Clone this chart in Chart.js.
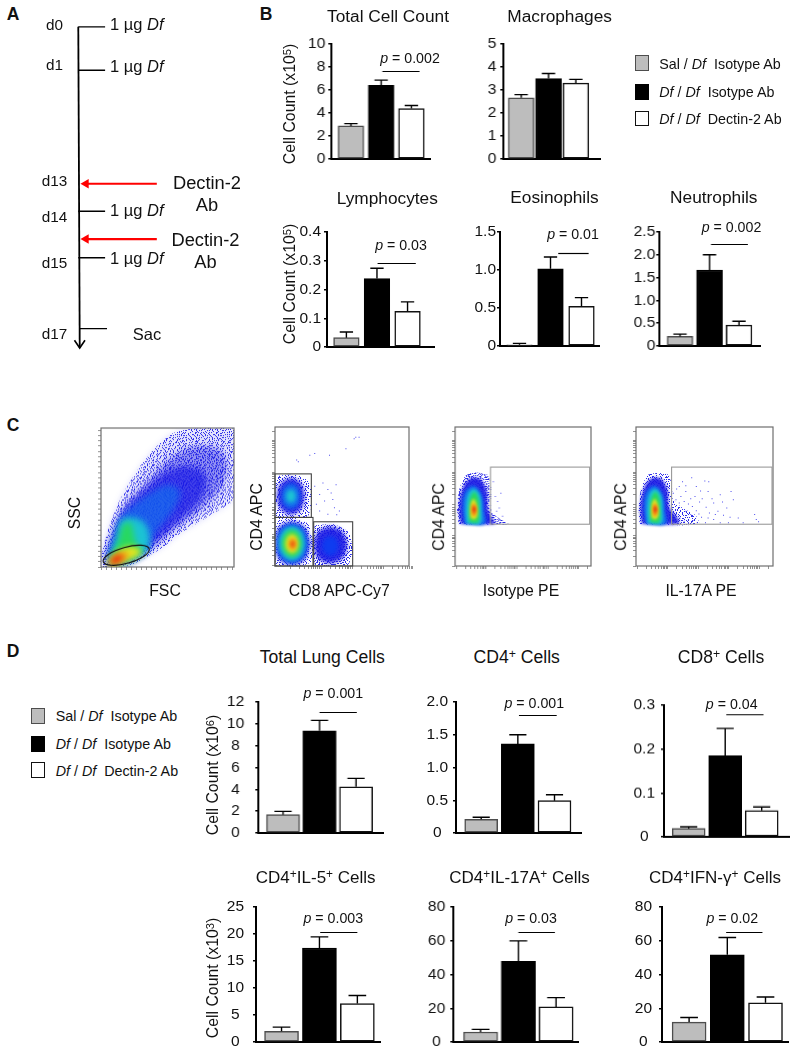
<!DOCTYPE html>
<html><head><meta charset="utf-8">
<script src="https://cdn.jsdelivr.net/npm/chart.js@4"></script>
<style>
html,body{margin:0;padding:0;background:#fff}
#page{position:relative;width:795px;height:1050px;overflow:hidden;font-family:"Liberation Sans",Arial,sans-serif;color:#111}
canvas{position:absolute}
.t{position:absolute;white-space:pre;line-height:1;transform:translate(-50%,-50%)}
.l{transform:translate(0,-50%)}
.r{transform:translate(-50%,-50%) rotate(-90deg)}
sup{font-size:.7em;line-height:0;vertical-align:baseline;position:relative;top:-.4em}
.sw{position:absolute;box-sizing:border-box}
</style></head><body><div id="page"></div>
<script>
/* ---------- data: bar panels ---------- */
const groupLabels=['Sal / <i>Df</i>  Isotype Ab','<i>Df</i> / <i>Df</i>  Isotype Ab','<i>Df</i> / <i>Df</i>  Dectin-2 Ab'];
const totalCellMeans=[2.88,6.4,4.39], totalCellTops=[3.08,6.86,4.65], totalCellTicks=['0','2','4','6','8','10'];
const macroMeans=[2.66,3.5,3.3], macroTops=[2.8,3.72,3.46], macroTicks=['0','1','2','3','4','5'];
const lymphMeans=[0.0325,0.238,0.124], lymphTops=[0.052,0.274,0.157], lymphTicks=['0','0.1','0.2','0.3','0.4'];
const eosMeans=[0.017,1.017,0.522], eosTops=[0.035,1.171,0.636], eosTicks=['0','0.5','1.0','1.5'];
const neutMeans=[0.21,1.667,0.457], neutTops=[0.26,2.0,0.543], neutTicks=['0','0.5','1.0','1.5','2.0','2.5'];
const lungMeans=[1.68,9.37,4.24], lungTops=[1.98,10.32,5.0], lungTicks=['0','2','4','6','8','10','12'];
const cd4Means=[0.209,1.36,0.494], cd4Tops=[0.24,1.5,0.585], cd4Ticks=['0','0.5','1.0','1.5','2.0'];
const cd8Means=[0.019,0.185,0.06], cd8Tops=[0.023,0.247,0.068], cd8Ticks=['0','0.1','0.2','0.3'];
const il5Means=[1.97,17.4,7.13], il5Tops=[2.76,19.47,8.6], il5Ticks=['0','5','10','15','20','25'];
const il17Means=[5.9,47.8,20.8], il17Tops=[7.5,59.9,26.3], il17Ticks=['0','20','40','60','80'];
const ifnMeans=[11.8,51.7,23.2], ifnTops=[14.5,61.9,26.7], ifnTicks=['0','20','40','60','80'];

/* ---------- data: timeline ---------- */
const doseRows=[22,66.7,212,260], sacRow=333, antibodyRows=[183.7,240.7];
const dayLabels=['d0','d1','d13','d14','d15','d17'];

/* ---------- data: flow density contours (channel units) ---------- */
const fscSparse=[305,470,305,430,320,370,345,300,375,240,420,170,470,110,520,70,580,57,703,57,703,260,690,280,640,310,590,340,540,370,490,410,440,440,390,465,340,470];
const fscDense=[310,452,328,395,358,315,395,262,450,205,510,145,580,110,660,120,682,170,660,240,600,300,540,342,490,382,440,425,390,458,340,468];
const fscBlue2=[318,445,338,385,362,320,392,280,440,235,500,185,570,170,620,200,600,270,550,320,500,365,460,400,420,430,370,455];
const fscLight=[322,445,342,375,365,318,400,285,450,250,505,225,540,245,520,300,480,350,442,400,400,440];
const fscCyan=[325,450,348,382,362,332,392,322,430,335,448,375,442,418,392,450,345,466];
const fscGreen=[322,455,352,398,368,345,390,338,402,378,412,408,432,420,402,445,342,466];
const fscYellow=[320,456,345,430,380,410,415,414,422,430,382,450,335,466];
const fscOrange=[325,458,345,436,365,428,386,432,372,450,335,465];
const fscRed=[328,456,345,438,360,434,366,445,340,462];
const fscGate=[378,435,72,24];

const cdSparseTop=[826,195,860,190,900,192,930,215,935,270,925,315,880,325,830,322,825,260,826,195];
const cdSparseLow=[826,328,880,325,925,340,940,400,935,455,900,468,826,468,826,328];
const cdSparseRight=[945,345,1000,340,1048,365,1060,420,1045,465,950,468,938,400,945,345];
const cdDots=[1070,75,1065,80,1080,75,990,130,945,125,890,145,895,150,1010,220,985,235,960,250,975,270,1000,265,1005,290,960,300,985,310,945,225,1020,300,995,245,970,215,1040,110,950,280,1012,312,1098,470,930,130];
const cdTopA=[914,258,902,219,872,203,842,219,830,258,842,297,872,313,902,297,914,258];
const cdTopB=[900,258,892,231,872,220,852,231,844,258,852,285,872,296,892,285,900,258];
const cdTopC=[887,258,883,244,872,238,861,244,857,258,861,272,872,278,883,272,887,258];
const cdLowA=[930,400,914,354,875,335,836,354,826,400,836,446,875,465,914,446,930,400];
const cdLowB=[923,400,909,358,875,342,841,358,829,400,841,442,875,460,909,442,923,400];
const cdLowC=[913,400,902,365,875,350,848,365,837,400,848,435,875,450,902,435,913,400];
const cdLowD=[905,400,896,371,875,358,854,371,845,400,854,429,875,442,896,429,905,400];
const cdLowE=[895,402,889,380,875,372,861,380,855,402,861,422,875,430,889,422,895,402];
const cdLowF=[888,402,884,390,877,384,870,390,866,402,870,414,877,420,884,414,888,402];
const cdLowG=[882,402,880,396,877,394,874,396,872,402,874,408,877,410,880,408,882,402];
const cdRightA=[1042,405,1027,366,990,350,953,366,942,405,953,444,990,460,1027,444,1042,405];
const cdRightB=[1015,408,1008,387,990,378,972,387,965,408,972,429,990,438,1008,429,1015,408];
const cdGates=[[824,191,933,322],[824,322,938,468],[940,335,1057,468]];

const isoSparse=[118,340,112,290,120,230,140,190,170,182,205,190,215,230,215,300,240,322,268,340,118,340];
const isoDots=[245,245,235,270,228,255,222,210,240,290,250,315,232,300];
const isoA=[122,340,118,290,128,235,150,205,180,205,200,240,205,300,225,335,225,340,122,340];
const isoB=[135,340,128,290,135,245,160,225,185,250,192,300,195,340,135,340];
const isoC=[140,338,138,290,145,250,162,235,180,255,185,300,182,338,140,338];
const isoD=[148,335,148,290,154,255,165,245,175,262,178,300,175,335,148,335];
const isoE=[152,322,152,285,161,265,171,285,172,315,165,326,152,322];
const isoF=[156,312,156,288,162,278,169,290,169,310,162,318,156,312];
const isoG=[159,303,160,290,164,287,167,296,165,305,159,303];
const isoGates=[[212,170,508,341]];

const il17Sparse=[660,340,656,290,664,230,684,190,714,184,748,190,758,230,760,262,790,290,830,312,840,340,660,340];
const il17Dots=[790,210,818,198,832,225,858,208,870,210,800,240,785,255,815,262,845,238,868,240,880,262,905,250,938,240,820,285,842,272,862,288,885,275,898,300,915,312,935,318,1010,310,1015,325,1022,332,960,320,800,300,815,310,832,298,848,318,868,320,885,325,905,335,860,335,835,335,780,275,795,270,770,265,808,278,828,255,850,262,772,232,762,245,780,225,755,205,800,222,770,310,782,320,795,330,808,335,822,328,840,308,872,305,890,310,925,290,945,265,912,272,930,335,975,335];
const il17A=[665,340,661,290,671,235,693,205,723,205,743,240,748,290,775,325,775,340,665,340];
const il17B=[678,340,671,290,678,245,703,225,728,250,735,300,738,340,678,340];
const il17C=[683,338,681,290,688,250,705,235,723,255,728,300,725,338,683,338];
const il17D=[691,335,691,290,697,255,708,245,718,262,721,300,718,335,691,335];
const il17E=[695,322,695,285,704,265,714,285,715,315,708,326,695,322];
const il17F=[699,312,699,288,705,278,712,290,712,310,705,318,699,312];
const il17G=[702,303,703,290,707,287,710,296,708,305,702,303];
const il17Gates=[[755,170,1057,341]];

/* flow axis tick positions */
const logSteps=[1,2,3,4,5,6,7,8,9];
const fscTickStart=302, fscTickEnd=703, fscTickGap=15.2;
const ssTickStart=470, ssTickEnd=55, ssTickGap=15.7;

/* ---------- helpers ---------- */
const page=document.getElementById('page');
const FONT='"Liberation Sans",Arial,sans-serif';
function txt(x,y,html,size,cls,extra){const d=document.createElement('div');d.className='t '+(cls||'');d.style.left=x+'px';d.style.top=y+'px';d.style.fontSize=size+'px';d.innerHTML=html;if(extra)Object.assign(d.style,extra);page.appendChild(d);return d;}
function mk(l,t,w,h){const c=document.createElement('canvas');c.style.left=l+'px';c.style.top=t+'px';c.width=w;c.height=h;c.style.width=w+'px';c.style.height=h+'px';page.appendChild(c);return c;}
const pairs=a=>{const o=[];for(let i=0;i<a.length;i+=2)o.push({x:a[i],y:a[i+1]});return o;};
Chart.defaults.animation=false;Chart.defaults.responsive=false;Chart.defaults.font.family=FONT;
const noLegend={legend:{display:false},tooltip:{enabled:false}};

const barMarks={id:'barMarks',afterDatasetsDraw(ch,_,o){
  const c=ch.ctx,X=ch.scales.x,Y=ch.scales.y;c.save();c.strokeStyle='#000';c.lineWidth=1.4;
  o.tops.forEach((v,i)=>{const x=X.getPixelForValue(i),y0=Y.getPixelForValue(o.means[i]),y1=Y.getPixelForValue(v);
    c.beginPath();c.moveTo(x,y0);c.lineTo(x,y1);c.moveTo(x-o.cap/2,y1);c.lineTo(x+o.cap/2,y1);c.stroke();});
  if(o.sig){c.lineWidth=1.2;const y=Math.round(Y.getPixelForValue(o.sig[0]))+.5;c.beginPath();c.moveTo(X.getPixelForValue(o.sig[1]),y);c.lineTo(X.getPixelForValue(o.sig[2]),y);c.stroke();}
  c.restore();}};

function barChart(p){
  const padL=50,padT=26,padB=26,padR=6;
  const step=(p.c2-p.c0)/2;
  const xMin=-(p.c0-p.axis)/step, xMax=2+(p.right-p.c2)/step;
  const cv=mk(p.axis-padL,p.top-padT,p.right-p.axis+padL+padR,p.bottom-p.top+padT+padB);
  const nums=p.ticks.map(Number);
  new Chart(cv,{type:'bar',plugins:[barMarks],data:{datasets:[{
      data:p.means.map((v,i)=>({x:i,y:v})),barThickness:p.bw,borderSkipped:false,
      backgroundColor:['#bdbdbd','#000','#fff'],borderColor:['#4d4d4d','#000','#111'],borderWidth:1.5}]},
    options:{layout:{padding:{top:padT,bottom:padB,right:padR}},
      plugins:{...noLegend,barMarks:{means:p.means,tops:p.tops,cap:p.bw*.52,sig:p.sig}},
      scales:{
        x:{type:'linear',min:xMin,max:xMax,offset:false,afterFit(s){s.height=0},
           ticks:{display:false},grid:{display:true,offset:false,drawOnChartArea:false,drawTicks:false},border:{display:true,color:'#000',width:2}},
        y:{min:0,max:nums[nums.length-1],afterFit(s){s.width=padL},
           afterBuildTicks(s){s.ticks=nums.map(v=>({value:v}))},
           ticks:{autoSkip:false,color:'#111',padding:p.tp==null?4:p.tp,crossAlign:p.align||'near',font:{size:p.fs||15.5},callback(v){return p.ticks[nums.indexOf(v)]}},
           grid:{drawOnChartArea:false,drawTicks:true,tickLength:3,tickColor:'#000',lineWidth:1.5},border:{display:true,color:'#000',width:2}}}}});
  if(p.title)txt(p.title[0],p.title[1],p.title[2],p.ts||17.3);
  if(p.pv)txt(p.pv[0],p.pv[1],'<i>p</i> = '+p.pv[2],14.2);
}
function legend(sw,tx,rows,fs){
  rows.forEach((r,i)=>{const d=document.createElement('div');d.className='sw';
    d.style.cssText+=`left:${sw[0]}px;top:${r[0]}px;width:${sw[1]}px;height:${r[1]}px;background:${['#bdbdbd','#000','#fff'][i]};border:1.5px solid ${['#4d4d4d','#000','#111'][i]}`;
    page.appendChild(d);txt(tx,r[2],groupLabels[i],fs,'l');});
}

/* dither tiles */
const tileSparse=["..x.....x.......","......x.....x...","x..........x....",".....x.x.......x","..x.........x...","........x.......",".x....x.....x...","...........x...x","....x...x.......","x.........x..x..","......x.........","..x.........x...",".......x.x.....x","x...x...........",".........x...x..","...x...x........"];
function pat(tile,col,n){const c=document.createElement('canvas');c.width=c.height=n;const g=c.getContext('2d');g.fillStyle=col;
  tile.slice(0,n).forEach((r,y)=>[...r.slice(0,n)].forEach((ch,x)=>{if(ch==='x')g.fillRect(x,y,1,1);}));return g.createPattern(c,'repeat');}
const PS=pat(tileSparse,'#3030ea',16),PS2=pat(tileSparse,'#2a2ae8',13),PS3=pat(tileSparse,'#2a2ae8',11);
const BLUE='rgba(26,26,228,.92)',B2='#0f3cf0',LB='rgba(15,120,238,.85)',CY='#1cc4d4',GR='#28d860',YE='#e8e620',OR='#f28a14',RE='#e4200f';

const blurPlug={id:'blurPlug',
  beforeDatasetsDraw(ch,_,o){ch.ctx.filter=`blur(${o.blur}px)`;},
  afterDatasetsDraw(ch,_,o){const c=ch.ctx,X=ch.scales.x,Y=ch.scales.y;c.filter='none';c.save();
    c.strokeStyle=o.gateColor;c.lineWidth=1.1;
    (o.gates||[]).forEach(g=>{const a=X.getPixelForValue(g[0]),b=Y.getPixelForValue(g[1]),e=X.getPixelForValue(g[2]),f=Y.getPixelForValue(g[3]);c.strokeRect(a,b,e-a,f-b);});
    if(o.ellipse){const[e0,e1,e2,e3]=o.ellipse;c.strokeStyle='#111';c.beginPath();
      c.ellipse(X.getPixelForValue(e0),Y.getPixelForValue(e1),Math.abs(X.getPixelForValue(e0+e2)-X.getPixelForValue(e0)),Math.abs(Y.getPixelForValue(e1+e3)-Y.getPixelForValue(e1)),-.27,0,Math.PI*2);c.stroke();}
    c.restore();}};
const boxPlug={id:'boxPlug',afterDraw(ch){const c=ch.ctx,a=ch.chartArea;c.save();c.strokeStyle='#6e6e6e';c.lineWidth=1.2;c.strokeRect(a.left,a.top,a.right-a.left,a.bottom-a.top);c.restore();}};

function areaSet(a,col,i,n,t){return {data:pairs(a),showLine:true,fill:'shape',tension:t==null?.35:t,backgroundColor:col,borderWidth:0,borderColor:'rgba(0,0,0,0)',pointRadius:0,order:n-i};}
function flow(p){
  const[L,T,R,B]=p.box,pad={l:8,t:2,r:2,b:6};
  const w=R-L+pad.l+pad.r,h=B-T+pad.t+pad.b;
  const scale=(range,ticks,size)=>({type:'linear',min:range[0],max:range[1],reverse:!!range[2],
      afterFit(s){if(size==='h')s.height=4;else s.width=8;},afterBuildTicks(s){s.ticks=ticks.map(v=>({value:v}))},
      ticks:{display:false},grid:{drawOnChartArea:false,drawTicks:true,tickLength:3,tickColor:'#777',lineWidth:.8},border:{display:false}});
  const base=p.under.map((u,i)=>areaSet(u[0],u[1],i,p.under.length,.2));
  if(p.dots)base.push({data:pairs(p.dots),showLine:false,pointRadius:.7,pointStyle:'rect',backgroundColor:'#4a4aee',borderWidth:0,order:-1});
  new Chart(mk(L-pad.l,T-pad.t,w,h),{type:'scatter',plugins:[boxPlug],data:{datasets:base},
    options:{layout:{padding:{top:pad.t,right:pad.r,bottom:2}},plugins:noLegend,
      scales:{x:scale(p.x,p.xt,'h'),y:scale(p.y,p.yt,'w')}}});
  new Chart(mk(L-pad.l,T-pad.t,w,h),{type:'scatter',plugins:[blurPlug],data:{datasets:p.over.map((u,i)=>areaSet(u[0],u[1],i,p.over.length))},
    options:{layout:{padding:{left:pad.l,top:pad.t,right:pad.r,bottom:pad.b}},
      plugins:{...noLegend,blurPlug:{blur:p.blur,gates:p.gates,gateColor:p.gateColor,ellipse:p.ellipse}},
      scales:{x:{type:'linear',display:false,min:p.x[0],max:p.x[1]},y:{type:'linear',display:false,min:p.y[0],max:p.y[1],reverse:!!p.y[2]}}}});
}
function decades(starts,span,dir){const o=[];starts.forEach(s=>logSteps.forEach(k=>o.push(s+dir*span*Math.log10(k))));return o;}
function linTicks(a,b,g){const o=[];const d=a<b?1:-1;for(let v=a;d*(b-v)>=0;v+=d*g)o.push(v);return o;}

/* ---------- panel letters ---------- */
txt(13,15,'<b>A</b>',17.5);txt(266,15,'<b>B</b>',17.5);txt(13,426,'<b>C</b>',17.5);txt(13,652,'<b>D</b>',17.5);

/* ---------- panel A timeline ---------- */
(function(){
  const ds=[];
  const seg=(a,w,col)=>ds.push({data:pairs(a),showLine:true,borderColor:col||'#000',borderWidth:w,pointRadius:0,fill:false});
  seg([76,22,77.5,353],1.8);
  seg([72,345,77.5,353,83,345],1.6);
  doseRows.forEach(r=>seg([76,r,104,r],1.4));
  seg([77.5,sacRow,106,sacRow],1.4);
  antibodyRows.forEach(r=>ds.push({data:pairs([158,r,84,r]),showLine:true,borderColor:'#f00',borderWidth:2.2,
     pointRadius:[0,5.5],pointStyle:'triangle',rotation:-90,pointBackgroundColor:'#f00',pointBorderWidth:0,fill:false}));
  new Chart(mk(0,0,260,370),{type:'scatter',data:{datasets:ds},options:{plugins:noLegend,
     scales:{x:{type:'linear',display:false,min:0,max:260},y:{type:'linear',display:false,min:0,max:370,reverse:true}}}});
  const dx=[54.5,54.5,54.5,54.5,54.5,54.5],dy=[25,65,181,217,263,334];
  dayLabels.forEach((d,i)=>txt(dx[i],dy[i],d,15.3));
  [24,66,210,258].forEach(y=>txt(110,y,'1 µg <i>Df</i>',16.5,'l'));
  txt(147,334,'Sac',16.5);
  txt(207,183,'Dectin-2',18.3);txt(207,205,'Ab',18.3);
  txt(205.5,239.5,'Dectin-2',18.3);txt(205.5,262,'Ab',18.3);
})();

/* ---------- panel B ---------- */
const bOpt={bw:25.6};
barChart({...bOpt,axis:331,right:429.6,c0:350.6,c2:411,top:43.5,bottom:158.7,tp:3,means:totalCellMeans,tops:totalCellTops,ticks:totalCellTicks,sig:[7.65,1.04,2.27],title:[388,16.7,'Total Cell Count'],pv:[410,57.6,'0.002']});
barChart({...bOpt,axis:503,right:599.5,c0:520.8,c2:575.4,top:43.5,bottom:158.7,tp:4,means:macroMeans,tops:macroTops,ticks:macroTicks,title:[559.6,16.7,'Macrophages']});
barChart({...bOpt,axis:326.7,right:434.3,c0:346.2,c2:407.7,top:231.7,bottom:346.7,tp:3,means:lymphMeans,tops:lymphTops,ticks:lymphTicks,sig:[0.2936,1.02,2.27],title:[387.3,199,'Lymphocytes'],pv:[401,245,'0.03']});
barChart({...bOpt,axis:500,right:599,c0:519.5,c2:581.5,top:231.7,bottom:345.7,tp:1,means:eosMeans,tops:eosTops,ticks:eosTicks,sig:[1.224,1.25,2.23],title:[554.5,198,'Eosinophils'],pv:[573,234,'0.01']});
barChart({...bOpt,axis:659.2,right:759.9,c0:679.9,c2:738.9,top:231.7,bottom:345.7,tp:1,means:neutMeans,tops:neutTops,ticks:neutTicks,sig:[2.23,1.05,2.3],title:[713.8,198,'Neutrophils'],pv:[731.5,227,'0.002']});
txt(290,103.8,'Cell Count (x10<sup>5</sup>)',15.8,'r');
txt(290,283.8,'Cell Count (x10<sup>5</sup>)',15.8,'r');
legend([634.6,14.4],659.2,[[55.2,16,63.6],[83.7,16,92.4],[110.5,15,118.8]],14.3);

/* ---------- panel C ---------- */
const logy=[466,382,278,182,86];
flow({box:[100.7,428.3,234.3,566.7],x:[302,703],y:[55,470,true],
  xt:linTicks(fscTickStart,fscTickEnd,fscTickGap),yt:linTicks(ssTickStart,ssTickEnd,ssTickGap),
  under:[[fscSparse,PS],[fscSparse,PS2],[fscDense,PS3],[fscDense,PS2],[fscDense,PS]],blur:3,
  over:[[fscSparse,'rgba(50,50,235,.14)'],[fscDense,'rgba(26,26,228,.4)'],[fscBlue2,'rgba(26,26,228,.7)'],[fscLight,'rgba(15,120,238,.6)'],[fscCyan,CY],[fscGreen,GR],[fscYellow,YE],[fscOrange,OR],[fscRed,RE]],
  ellipse:fscGate,gateColor:'#111'});
flow({box:[274.7,424.7,410.7,566],x:[824,1232],y:[44,468,true],
  xt:decades([870,965,1060,1155],93,1),yt:decades(logy,97,-1).filter(v=>v>44),
  under:[[cdSparseTop,PS],[cdSparseTop,PS2],[cdSparseLow,PS],[cdSparseLow,PS2],[cdSparseRight,PS],[cdSparseRight,PS2],[cdSparseRight,PS3]],dots:cdDots,blur:2.2,
  over:[[cdTopA,BLUE],[cdTopB,LB],[cdTopC,CY],[cdRightA,BLUE],[cdRightB,B2],[cdLowA,BLUE],[cdLowB,LB],[cdLowC,CY],[cdLowD,GR],[cdLowE,YE],[cdLowF,OR],[cdLowG,RE]],
  gates:cdGates,gateColor:'#444'});
flow({box:[455.3,425,592.7,566],x:[106,518],y:[44,466,true],
  xt:decades([110,200,293,387,480],93,1).filter(v=>v<518),yt:decades(logy,97,-1).filter(v=>v>44),
  under:[[isoSparse,PS],[isoSparse,PS2],[isoSparse,PS3]],dots:isoDots,blur:1.8,
  over:[[isoA,BLUE],[isoB,LB],[isoC,CY],[isoD,GR],[isoE,YE],[isoF,OR],[isoG,RE]],
  gates:isoGates,gateColor:'#9a9a9a'});
flow({box:[636,425,775.3,566],x:[648,1066],y:[44,466,true],
  xt:decades([652,745,838,931,1024],93,1).filter(v=>v<1066),yt:decades(logy,97,-1).filter(v=>v>44),
  under:[[il17Sparse,PS],[il17Sparse,PS2]],dots:il17Dots,blur:1.8,
  over:[[il17A,BLUE],[il17B,LB],[il17C,CY],[il17D,GR],[il17E,YE],[il17F,OR],[il17G,RE]],
  gates:il17Gates,gateColor:'#9a9a9a'});
txt(75,513,'SSC',15.8,'r');txt(165,590.7,'FSC',15.8);
txt(256.7,517.3,'CD4 APC',15.8,'r');txt(339.3,590.7,'CD8 APC-Cy7',15.8);
txt(439.3,517.3,'CD4 APC',15.8,'r');txt(521,590.7,'Isotype PE',15.8);
txt(621,517.3,'CD4 APC',15.8,'r');txt(701,590.7,'IL-17A PE',15.8);

/* ---------- panel D ---------- */
legend([30.7,14.5],55.7,[[707.7,16,716],[736,16,743.7],[762.3,15.5,770.7]],14.3);
const dOpt={bw:33,ts:17.6};
barChart({...dOpt,align:'center',tp:11,axis:258.3,right:382.7,c0:283,c2:355.8,top:702.3,bottom:833.3,means:lungMeans,tops:lungTops,ticks:lungTicks,sig:[11.1,1,2.02],title:[322.3,658.3,'Total Lung Cells'],pv:[333.3,693.3,'0.001']});
barChart({...dOpt,align:'center',tp:5,axis:456,right:581,c0:481.2,c2:554.5,top:701.7,bottom:832.7,means:cd4Means,tops:cd4Tops,ticks:cd4Ticks,sig:[1.807,1.03,2.06],title:[516.7,658.3,'CD4<sup>+</sup> Cells'],pv:[534.3,703.3,'0.001']});
barChart({...dOpt,align:'center',tp:6,axis:664.3,right:789.3,c0:689,c2:762,top:705,bottom:836.7,means:cd8Means,tops:cd8Tops,ticks:cd8Ticks,sig:[0.279,1.03,2.05],title:[721,658.3,'CD8<sup>+</sup> Cells'],pv:[731.7,703.7,'0.04']});
const dOpt2={bw:34,align:'center',ts:17};
barChart({...dOpt2,tp:9,axis:255.7,right:380,c0:281.3,c2:357.3,top:906.7,bottom:1042.3,means:il5Means,tops:il5Tops,ticks:il5Ticks,sig:[20.4,1.02,2],title:[315.7,876.7,'CD4<sup>+</sup>IL-5<sup>+</sup> Cells'],pv:[333.3,917.7,'0.003']});
barChart({...dOpt2,tp:5,axis:453.3,right:578.3,c0:480.7,c2:556.3,top:906.7,bottom:1042.3,means:il17Means,tops:il17Tops,ticks:il17Ticks,sig:[65.3,1,1.97],title:[519.5,876.7,'CD4<sup>+</sup>IL-17A<sup>+</sup> Cells'],pv:[531,917.7,'0.03']});
barChart({...dOpt2,tp:7,axis:661.7,right:787.7,c0:688.8,c2:765.2,top:906.7,bottom:1042.3,means:ifnMeans,tops:ifnTops,ticks:ifnTicks,sig:[65.3,.97,1.92],title:[715,876.7,'CD4<sup>+</sup>IFN-γ<sup>+</sup> Cells'],pv:[732.3,917.7,'0.02']});
txt(213,775,'Cell Count (x10<sup>6</sup>)',15.8,'r');
txt(212.7,978.3,'Cell Count (x10<sup>3</sup>)',15.8,'r');
</script></body></html>
